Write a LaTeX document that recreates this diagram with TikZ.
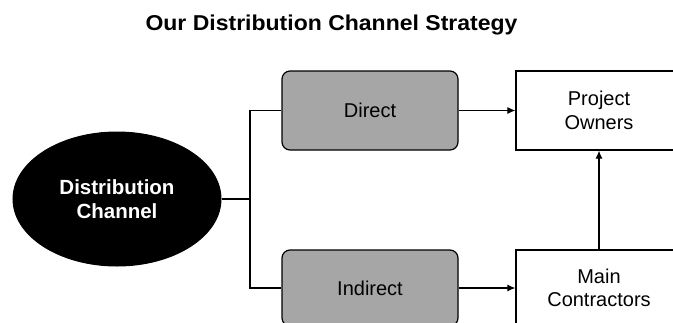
\documentclass[tikz,border=0pt]{standalone}
\usepackage{fontspec}
\setmainfont{Liberation Sans}
\newfontfamily\titlefont[FakeStretch=1.07]{Liberation Sans}
\usetikzlibrary{shapes.geometric,arrows.meta}
\begin{document}
\begin{tikzpicture}[x=1pt,y=-1pt,
  line width=1pt,
  conn/.style={draw=black, line width=1.1pt},
  arr/.style={conn, -{Latex[length=8pt,width=7pt]}},
  shadebox/.style={draw=black, line width=1.2pt, rounded corners=8pt, fill=black!35,
    minimum width=176pt, minimum height=79pt, inner sep=0pt,
    font=\fontsize{20}{23}\selectfont},
  whitebox/.style={draw=black, line width=1.2pt, fill=white,
    minimum width=166pt, inner sep=0pt, align=center,
    font=\fontsize{20}{23.5}\selectfont},
  hub/.style={ellipse, fill=black, draw=black, minimum width=208pt, minimum height=134pt,
    inner sep=0pt, align=center, text=white,
    font=\bfseries\fontsize{20.5}{24}\selectfont}
]
\useasboundingbox (0,0) rectangle (673,322);
\clip (0,0) rectangle (673,322);
\fill[white] (0,0) rectangle (673,322);

\node[font=\titlefont\bfseries\fontsize{21.5}{24}\selectfont] (title) at (331.5,25) {Our Distribution Channel Strategy};

\node[hub] (dc) at (117,199) {Distribution\\Channel};

\node[shadebox] (direct) at (370,110.5) {Direct};
\node[shadebox, minimum height=76pt] (indirect) at (370,288) {Indirect};

\node[whitebox, minimum height=79pt] (po) at (599,110.5) {Project\\Owners};
\node[whitebox, minimum height=76pt] (mc) at (599,288) {Main\\Contractors};

\coordinate (fork) at (250,199);
\draw[conn] (dc.east) -- (fork);
\draw[conn] (fork) |- (direct.west);
\draw[conn] (fork) |- (indirect.west);

\draw[arr] (direct.east) -- (po.west);
\draw[arr] (indirect.east) -- (mc.west);
\draw[arr] (mc.north) -- (po.south);
\end{tikzpicture}
\end{document}
